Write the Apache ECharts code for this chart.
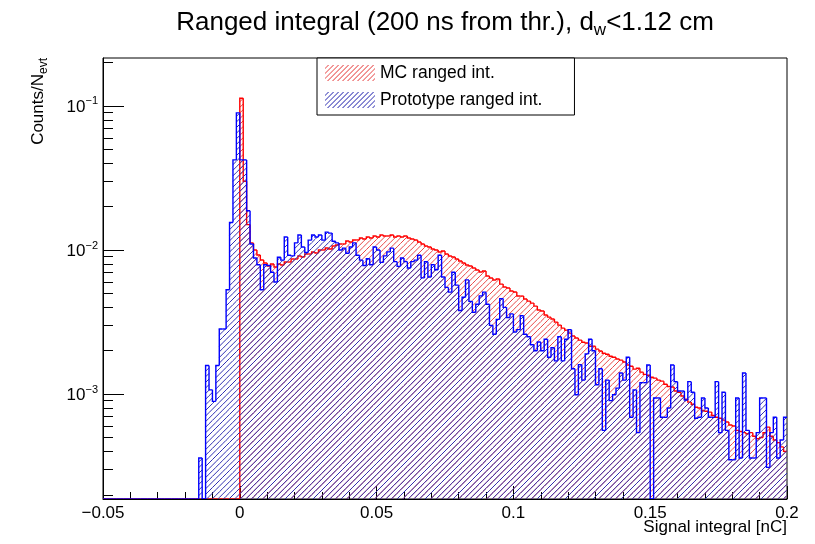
<!DOCTYPE html>
<html><head><meta charset="utf-8">
<script src="https://cdn.jsdelivr.net/npm/echarts@6/dist/echarts.min.js"></script>
<style>html,body{margin:0;padding:0;background:#fff}#c{width:815px;height:544px}</style>
</head><body><div id="c"></div>
<script>
// ---- histogram definition ----
const xMin = -0.05, xMax = 0.2, binWidth = 0.00125;
const yMin = 1.87e-4, yMax = 0.215;
const xTickInterval = 0.05;
const yMajorTicks = [0.001, 0.01, 0.1];
const yMinorTicks = [2e-4,3e-4,4e-4,5e-4,6e-4,7e-4,8e-4,9e-4,
  2e-3,3e-3,4e-3,5e-3,6e-3,7e-3,8e-3,9e-3,
  2e-2,3e-2,4e-2,5e-2,6e-2,7e-2,8e-2,9e-2,2e-1];
const seriesNames = ['MC ranged int.', 'Prototype ranged int.'];

// ---- MC ranged integral (counts / N_evt per bin) ----
const mcValues = [
0,0,0,0,0,0,0,0,0,0,
0,0,0,0,0,0,0,0,0,0,
0,0,0,0,0,0,0,0,0,0,
0,0,0,0,0,0,0,0,0,0,
0.113,0.030,0.015,0.0112,0.0100,0.00923,0.00852,0.00812,0.00774,0.00799,
0.00762,0.00799,0.00787,0.00825,0.00825,0.00866,0.00866,0.00908,0.00894,0.00938,
0.00938,0.00969,0.00953,0.0100,0.0100,0.01033,0.01016,0.01066,0.01083,0.01101,
0.01101,0.01155,0.01137,0.01174,0.01174,0.01212,0.01193,0.01231,0.01212,0.01251,
0.01231,0.01271,0.01251,0.01251,0.01271,0.01231,0.01251,0.01231,0.01251,0.01212,
0.01193,0.01174,0.01137,0.01101,0.01066,0.01049,0.01016,0.0100,0.00969,0.00984,
0.00938,0.00908,0.00894,0.00866,0.00839,0.00812,0.00787,0.00774,0.00750,0.00726,
0.00703,0.00715,0.00660,0.00639,0.00619,0.00629,0.00580,0.00553,0.00545,0.00519,
0.00511,0.00479,0.00479,0.00457,0.00442,0.00428,0.00408,0.00383,0.00377,0.00354,
0.00342,0.00332,0.00316,0.00301,0.00287,0.00278,0.00265,0.00253,0.00245,0.00237,
0.00229,0.00226,0.00215,0.00215,0.00205,0.00199,0.00192,0.00189,0.00183,0.00180,
0.00175,0.00172,0.00167,0.00159,0.00156,0.00149,0.00151,0.00142,0.00137,0.00135,
0.00131,0.00129,0.00125,0.00123,0.00117,0.00113,0.00112,0.00105,0.00103,0.00097,
0.00092,0.00088,0.00085,0.00081,0.00080,0.00077,0.00076,0.00075,0.00071,0.00069,
0.00068,0.00066,0.00064,0.00061,0.00060,0.00056,0.00055,0.00054,0.00053,0.00054,
0.00051,0.00049,0.00050,0.00054,0.00059,0.00051,0.00048,0.00046,0.00043,0.00040
];

// ---- Prototype ranged integral ----
const protoValues = [
0,0,0,0,0,0,0,0,0,0,
0,0,0,0,0,0,0,0,0,0,
0,0,0,0,0,0,0,0,0.00036,0,
0.00158,0.00107,0.00089,0.00158,0.00283,0.00283,0.0053,0.0155,0.0422,0.0894,
0.0422,0.0422,0.0187,0.0110,0.0088,0.0079,0.0053,0.0079,0.0078,0.0070,
0.0060,0.0089,0.0085,0.0123,0.0092,0.0091,0.0112,0.0127,0.0105,0.0096,
0.0117,0.0127,0.0123,0.0127,0.0117,0.0133,0.0131,0.0115,0.0112,0.0100,
0.0103,0.0095,0.0105,0.0112,0.0092,0.0085,0.0078,0.0087,0.0079,0.0105,
0.0100,0.0082,0.0091,0.0097,0.0103,0.0083,0.0077,0.0088,0.0083,0.0075,
0.0083,0.0085,0.0092,0.0064,0.0083,0.0065,0.0079,0.0073,0.0092,0.0065,
0.0055,0.0051,0.0070,0.0057,0.0038,0.0047,0.0062,0.0044,0.0037,0.0042,
0.0048,0.0051,0.0042,0.0030,0.0026,0.0033,0.0046,0.0040,0.0034,0.0036,
0.0027,0.0028,0.0035,0.0026,0.0025,0.0022,0.0020,0.0023,0.0020,0.0024,
0.0018,0.0021,0.0017,0.0025,0.0017,0.0024,0.0028,0.0015,0.00099,0.0016,
0.00125,0.0019,0.0024,0.0020,0.00116,0.0015,0.00056,0.00125,0.0009,0.00099,
0.0011,0.0014,0.00125,0.0018,0.00069,0.00107,0.00054,0.0012,0.0012,0.00159,
0,0.00094,0.00094,0.00069,0.00069,0.0008,0.00159,0.00122,0.00105,0.00105,
0.00091,0.00122,0.00103,0.00068,0.00069,0.00094,0.0008,0.00069,0.00069,0.00122,
0.00054,0.00103,0.00056,0.00035,0.00035,0.00094,0.00036,0.0014,0.00056,0.00036,
0.00036,0.00054,0.00094,0.00094,0.00031,0.00054,0.00069,0.00036,0.00048,0.00069
];

const FONT = '"Liberation Sans", Arial, Helvetica, sans-serif';
const HATCH_STEP = 5.6;
const RED_LINE = '#ff0000', RED_HATCH = '#e84646';
const BLUE_LINE = '#0000ff', BLUE_HATCH = '#2e2eb2';

// legend swatch: thin "/" parallelograms inside a w x h box, as an icon path
function swatchIcon(w, h, step, t) {
  let d = '';
  const seg = c => {
    const xa = Math.max(0, c - h), xb = Math.min(w, c);
    return [[xa, c - xa], [xb, c - xb]];
  };
  for (let c = step * 0.6; c + t < w + h; c += step) {
    const [a1, b1] = seg(c), [a2, b2] = seg(c + t);
    d += 'M' + a1[0].toFixed(2) + ' ' + a1[1].toFixed(2) + 'L' + b1[0].toFixed(2) + ' ' + b1[1].toFixed(2) +
         'L' + b2[0].toFixed(2) + ' ' + b2[1].toFixed(2) + 'L' + a2[0].toFixed(2) + ' ' + a2[1].toFixed(2) + 'Z';
  }
  // corner anchors so the icon bounds equal the swatch box
  d += 'M0 0L0.01 0L0 0.01ZM' + w + ' ' + h + 'L' + (w - 0.01) + ' ' + h + 'L' + w + ' ' + (h - 0.01) + 'Z';
  return 'path://' + d;
}

// diagonal "/" hatch lines (x + y = k*step) clipped to a pixel rectangle
function hatchPath(xl, xr, yt, yb) {
  let d = '';
  const k0 = Math.ceil((xl + yt) / HATCH_STEP), k1 = Math.floor((xr + yb) / HATCH_STEP);
  for (let k = k0; k <= k1; k++) {
    const c = k * HATCH_STEP;
    const xa = Math.max(xl, c - yb), xb = Math.min(xr, c - yt);
    if (xb <= xa) continue;
    d += 'M' + xa.toFixed(2) + ' ' + (c - xa).toFixed(2) + 'L' + xb.toFixed(2) + ' ' + (c - xb).toFixed(2);
  }
  return d;
}

function toData(vals) {
  return vals.map((v, i) => [xMin + i * binWidth, xMin + (i + 1) * binWidth, v]);
}

function makeRender(lineColor, hatchColor) {
  return function (params, api) {
    const i = params.dataIndexInside;
    const x0 = api.value(0), x1 = api.value(1), v = api.value(2);
    const vp = i > 0 ? api.value(2, i - 1) : 0;
    const cl = t => (t > yMin ? t : yMin);
    const pTop = api.coord([x0, cl(v)]);
    const pR = api.coord([x1, cl(v)]);
    const pPrev = api.coord([x0, cl(vp)]);
    const pBot = api.coord([x0, yMin]);
    const children = [];
    if (v > yMin) {
      const d = hatchPath(pTop[0], pR[0], pTop[1], pBot[1]);
      if (d) children.push({ type: 'path', shape: { pathData: d }, style: { stroke: hatchColor, lineWidth: 1, fill: null } });
    }
    children.push({ type: 'polyline', shape: { points: [pPrev, pTop, pR] },
      style: { stroke: lineColor, lineWidth: 1.4, fill: null } });
    return { type: 'group', children };
  };
}

const chart = echarts.init(document.getElementById('c'), null, { renderer: 'canvas' });
const yLabelFmt = v => {
  const e = Math.round(Math.log10(v));
  return '{b|10}{s|' + (e < 0 ? '\u2212' : '') + Math.abs(e) + '}';
};
const icon = swatchIcon(50, 16, 5, 1.1);
chart.setOption({
  animation: false,
  backgroundColor: '#fff',
  grid: { left: 103, top: 58, width: 684, height: 441, show: true, borderColor: '#000', borderWidth: 1, backgroundColor: 'transparent' },
  legend: {
    left: 317, top: 58, orient: 'vertical', itemWidth: 50, itemHeight: 16, itemGap: 9,
    padding: [6, 32, 6, 8], backgroundColor: '#fff', borderColor: '#000', borderWidth: 1, borderRadius: 0,
    selectedMode: false, symbolKeepAspect: false, textStyle: { fontSize: 17.5, color: '#000', fontFamily: FONT },
    data: [
      { name: seriesNames[0], icon: icon, itemStyle: { color: RED_HATCH, borderWidth: 0, opacity: 1 } },
      { name: seriesNames[1], icon: icon, itemStyle: { color: BLUE_HATCH, borderWidth: 0, opacity: 1 } }
    ]
  },
  xAxis: {
    type: 'value', min: xMin, max: xMax, interval: xTickInterval,
    axisLine: { show: true, onZero: false, lineStyle: { color: '#000', width: 1 } },
    axisTick: { show: true, inside: true, length: 13, lineStyle: { color: '#000' } },
    minorTick: { show: true, splitNumber: 5, length: 7, lineStyle: { color: '#000' } },
    splitLine: { show: false },
    axisLabel: { color: '#000', fontSize: 17, fontFamily: FONT, margin: 6,
      formatter: v => { const r = +v.toFixed(3); return r < 0 ? '\u2212' + Math.abs(r) : String(r); } }
  },
  yAxis: [{
    type: 'log', logBase: 10, min: yMin, max: yMax,
    axisLine: { show: true, onZero: false, lineStyle: { color: '#000', width: 1 } },
    axisTick: { show: true, inside: true, length: 21, customValues: yMajorTicks, lineStyle: { color: '#000' } },
    splitLine: { show: false },
    axisLabel: { customValues: yMajorTicks, margin: 5, formatter: yLabelFmt,
      rich: { b: { fontSize: 17, fontFamily: FONT, color: '#000', lineHeight: 20, verticalAlign: 'bottom' },
              s: { fontSize: 11, fontFamily: FONT, color: '#000', lineHeight: 11, verticalAlign: 'top' } } }
  }, {
    type: 'log', logBase: 10, min: yMin, max: yMax, position: 'left',
    axisLine: { show: false, onZero: false },
    axisTick: { show: true, inside: true, length: 10, customValues: yMinorTicks, lineStyle: { color: '#000' } },
    axisLabel: { show: false }, splitLine: { show: false }
  }],
  graphic: [
    { type: 'text', x: 445, y: 24, style: { text: '{a|Ranged integral (200 ns from thr.), d}{s|w}{a|<1.12 cm}',
      align: 'center', verticalAlign: 'middle',
      rich: { a: { fontSize: 26, fontFamily: FONT, fill: '#000', lineHeight: 29, verticalAlign: 'top' },
              s: { fontSize: 17, fontFamily: FONT, fill: '#000', lineHeight: 17, verticalAlign: 'bottom' } } } },
    { type: 'text', x: 40, y: 58, rotation: Math.PI / 2, style: { text: '{a|Counts/N}{s|evt}',
      align: 'right', verticalAlign: 'middle',
      rich: { a: { fontSize: 17, fontFamily: FONT, fill: '#000', lineHeight: 20, verticalAlign: 'top' },
              s: { fontSize: 12, fontFamily: FONT, fill: '#000', lineHeight: 12, verticalAlign: 'bottom' } } } },
    { type: 'text', x: 787, y: 527, style: { text: 'Signal integral [nC]', align: 'right', verticalAlign: 'middle',
      fontSize: 17, fontFamily: FONT, fill: '#000' } }
  ],
  series: [
    { name: seriesNames[0], type: 'custom', clip: true, encode: { x: [0, 1], y: 2 },
      renderItem: makeRender(RED_LINE, RED_HATCH), data: toData(mcValues), itemStyle: { color: RED_LINE } },
    { name: seriesNames[1], type: 'custom', clip: true, encode: { x: [0, 1], y: 2 },
      renderItem: makeRender(BLUE_LINE, BLUE_HATCH), data: toData(protoValues), itemStyle: { color: BLUE_LINE } }
  ]
});
</script>
</body></html>
